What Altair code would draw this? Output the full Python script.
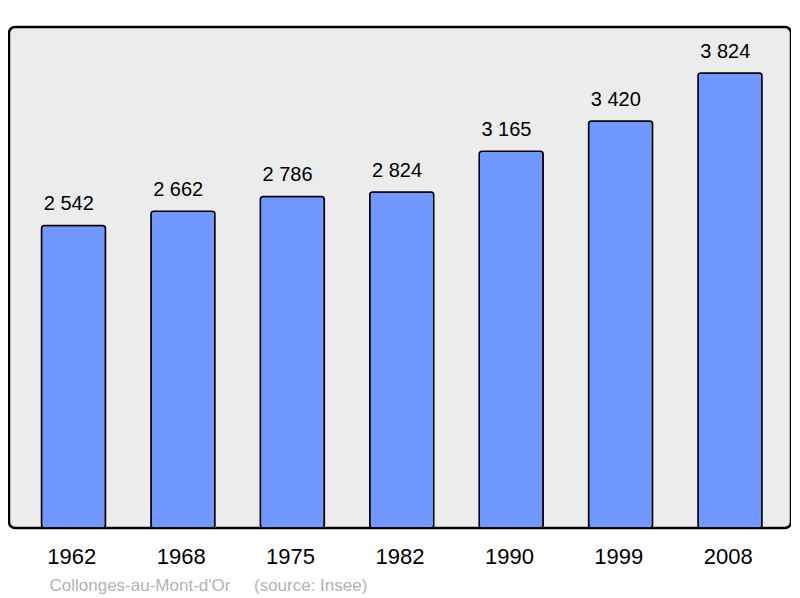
import altair as alt
import pandas as pd

years = ["1962", "1968", "1975", "1982", "1990", "1999", "2008"]
population = [2542, 2662, 2786, 2824, 3165, 3420, 3824]
caption = "Collonges-au-Mont-d'Or" + "\u00a0" * 5 + "(source: Insee)"

df = pd.DataFrame({
    "year": years,
    "pop": population,
    "label": [f"{v:,}".replace(",", " ") for v in population],
})

FONT = "Liberation Sans"

x = alt.X(
    "year:N",
    sort=years,
    scale=alt.Scale(paddingInner=0.415, paddingOuter=0.281),
    axis=alt.Axis(
        title=caption,
        titleFont=FONT,
        titleFontSize=17,
        titleFontWeight="normal",
        titleColor="#b3b3b3",
        titleAnchor="start",
        titleAlign="left",
        titleBaseline="alphabetic",
        titleX=40,
        titleY=62,
        labelFont=FONT,
        labelFontSize=22,
        labelColor="#000000",
        labelAngle=0,
        labelPadding=18,
        ticks=False,
        domain=False,
        grid=False,
    ),
)
y = alt.Y("pop:Q", scale=alt.Scale(domain=[0, 4210], nice=False), axis=None)

bars = alt.Chart(df).mark_bar(
    fill="#7098ff", stroke="#000000", strokeWidth=1.5, cornerRadius=3, xOffset=1.75
).encode(x=x, y=y)

texts = alt.Chart(df).mark_text(
    font=FONT, fontSize=20, color="#000000", baseline="alphabetic", dy=-15, dx=-3
).encode(x=x, y=y, text="label:N")

chart = (
    alt.layer(bars, texts)
    .properties(
        width=782,
        height=501,
        autosize=alt.AutoSizeParams(type="none"),
        padding={"left": 1, "top": 19, "right": 0, "bottom": 70},
        background="#ffffff",
    )
    .configure_view(
        fill="#ececec", stroke="#000000", strokeWidth=2.5, cornerRadius=6
    )
)

chart.save("out.html", embed_options={"renderer": "svg", "actions": False})
